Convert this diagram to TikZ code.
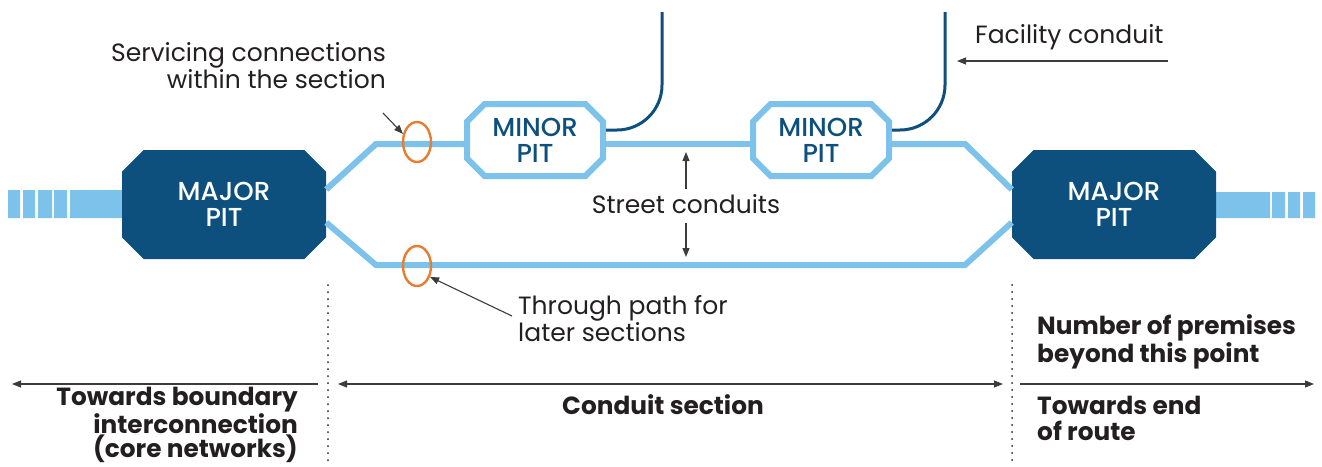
\documentclass[tikz,border=0pt]{standalone}
\usepackage{fontspec}
\setmainfont{Poppins}
\IfFontExistsTF{Poppins Medium}{\newfontfamily\pitfont{Poppins Medium}}{\newfontfamily\pitfont{Poppins}[FakeBold=1.2]}
\usetikzlibrary{shapes.misc,shapes.geometric,arrows.meta,calc}

\definecolor{pitblue}{RGB}{14,80,125}
\definecolor{ductblue}{RGB}{125,194,235}
\definecolor{ringorange}{RGB}{232,125,50}
\definecolor{inkc}{RGB}{35,31,32}
\definecolor{arrowgray}{RGB}{60,60,60}

\tikzset{
  majorpit/.style={chamfered rectangle, chamfered rectangle xsep=18pt, fill=pitblue,
    minimum width=204pt, minimum height=109pt, inner sep=0pt, text=white, align=center,
    font=\pitfont\fontsize{26}{26}\selectfont},
  minorpit/.style={chamfered rectangle, chamfered rectangle xsep=14pt, fill=white,
    draw=ductblue, line width=6pt, minimum width=136pt, minimum height=72pt, inner sep=0pt,
    text=pitblue, align=center, font=\pitfont\fontsize{26}{26}\selectfont},
  duct/.style={draw=ductblue, line width=6pt},
  facility/.style={draw=pitblue, line width=3pt, rounded corners=45pt},
  ring/.style={ellipse, draw=ringorange, line width=2.4pt, minimum width=28pt,
    minimum height=40pt, inner sep=0pt},
  note/.style={font=\fontsize{25}{27}\selectfont, text=inkc, inner sep=0pt},
  bignote/.style={font=\fontsize{24.8}{26}\selectfont\bfseries, text=inkc, inner sep=0pt},
  pointer/.style={draw=arrowgray, line width=1.1pt, -{Triangle[length=9pt,width=7pt]}},
  cutline/.style={draw=inkc, line width=2pt, dash pattern=on 0pt off 7pt, line cap=round}
}

\begin{document}
\begin{tikzpicture}[x=1pt,y=-1pt]
    \useasboundingbox (0,0) rectangle (1322,466);

    % feeder ducts beyond the major pits
    \fill[ductblue] (8,190) rectangle (20,218) (23,190) rectangle (35,218)
      (38,190) rectangle (52,218) (54,190) rectangle (67,218) (70,190) rectangle (140,218);
    \fill[ductblue] (1200,192) rectangle (1270,218) (1272,192) rectangle (1285,218)
      (1288,192) rectangle (1300,218) (1303,192) rectangle (1315,218);

    % pits
    \node[majorpit] (lmaj) at (224,204.5) {MAJOR\\PIT};
    \node[majorpit] (rmaj) at (1114,204.5) {MAJOR\\PIT};
    \node[minorpit] (lmin) at (535,140) {MINOR\\PIT};
    \node[minorpit] (rmin) at (821,140) {MINOR\\PIT};

    % street conduits (upper servicing path, lower through path)
    \draw[duct] ($(lmaj.east)+(0,-15)$) -- (376,144) -- ($(lmin.west)+(0,4)$);
    \draw[duct] ($(lmin.east)+(0,4)$) -- ($(rmin.west)+(0,4)$);
    \draw[duct] ($(rmin.east)+(0,4)$) -- (965,144) -- ($(rmaj.west)+(0,-15)$);
    \draw[duct] ($(lmaj.east)+(0,18)$) -- (376,265) -- (965,265) -- ($(rmaj.west)+(0,18)$);

    % facility conduits into the minor pits
    \coordinate (feed1) at (662,12);
    \coordinate (feed2) at (945,12);
    \draw[facility] (feed1) -- (662,130) -- ($(lmin.east)+(0,-10)$);
    \draw[facility] (feed2) -- (945,130) -- ($(rmin.east)+(0,-10)$);

    % rings on the conduits
    \node[ring] (svc) at (417,142) {};
    \node[ring] (thru) at (417,266) {};

    % labels and pointers
    \node[note, align=right, anchor=east] (svctext) at (386,66) {Servicing connections\\within the section};
    \coordinate (svcfrom) at (383,113);
    \draw[pointer] (svcfrom) -- (svc.150);

    \node[note, anchor=west] (factext) at (975,37) {Facility conduit};
    \coordinate (facfrom) at (1168,61);
    \coordinate (facto) at (957,61);
    \draw[pointer] (facfrom) -- (facto);

    \node[note] (street) at (686,204) {Street conduits};
    \coordinate (uptip) at (686,152);
    \coordinate (lowtip) at (686,257);
    \draw[pointer] ($(street.north)+(0,-5)$) -- (uptip);
    \draw[pointer] ($(street.south)+(0,9)$) -- (lowtip);

    \node[note, align=left, anchor=west] (thrutext) at (518,319) {Through path for\\later sections};
    \coordinate (thrufrom) at (512,316);
    \draw[pointer] (thrufrom) -- (thru.-40);

    % section limits
    \coordinate (cutl) at (328,285);
    \coordinate (cutr) at (1012,285);
    \draw[cutline] (cutl) -- (328,466);
    \draw[cutline] (cutr) -- (1012,466);

    \coordinate (leftend) at (12,384);
    \coordinate (rightend) at (1314,384);
    \draw[pointer] (318,384) -- (leftend);
    \draw[pointer, {Triangle[length=9pt,width=7pt]}-{Triangle[length=9pt,width=7pt]}] (338,384) -- (1003,384);
    \draw[pointer] (1020,384) -- (rightend);

    \node[bignote, align=right, anchor=east, font=\fontsize{24.8}{24}\selectfont\bfseries] (core) at (298,425) {Towards boundary\\interconnection\\(core networks)};
    \node[bignote] (section) at (663,405) {Conduit section};
    \node[bignote, align=left, anchor=west] (premises) at (1037,342) {Number of premises\\beyond this point};
    \node[bignote, align=left, anchor=west] (routeend) at (1037,418) {Towards end\\of route};
\end{tikzpicture}
\end{document}
